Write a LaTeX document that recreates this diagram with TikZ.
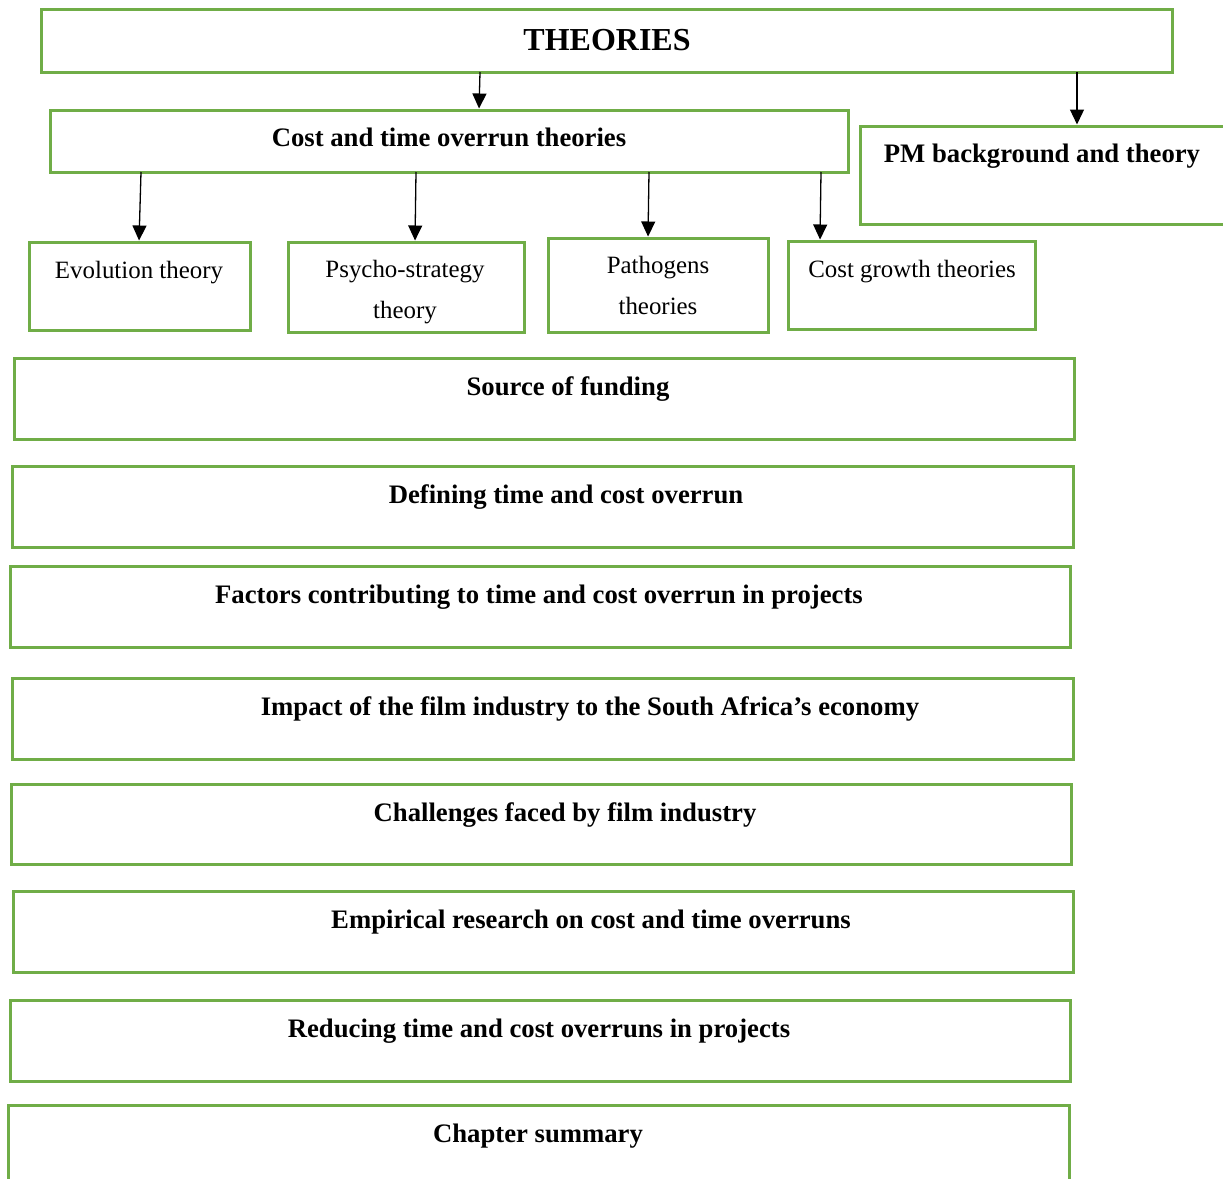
\documentclass[tikz,border=0pt]{standalone}
\usepackage{fontspec}
\setmainfont{Liberation Serif}
\usetikzlibrary{arrows.meta}
\definecolor{boxgreen}{RGB}{112,173,71}
\begin{document}
\begin{tikzpicture}[x=1pt,y=-1pt,
  box/.style={draw=boxgreen, line width=3pt, rectangle, inner sep=0pt, outer sep=0pt, anchor=north west},
  headtext/.style={font=\fontsize{32}{38}\selectfont\bfseries, anchor=base, inner sep=0pt},
  bt/.style={font=\fontsize{26.7}{32}\selectfont\bfseries, anchor=base, inner sep=0pt},
  rt/.style={font=\fontsize{24.9}{30}\selectfont, anchor=base, inner sep=0pt},
  arr/.style={line width=1.3pt, shorten >=1.5pt, -{Triangle[width=14pt,length=15pt]}}]
\useasboundingbox (0,0) rectangle (1223,1178);
\clip (0,0) rectangle (1223,1178);

% top level
\node[box, minimum width=1131pt, minimum height=63pt] (theories) at (41,9) {};
\node[headtext] (theoriesT) at (607,50) {THEORIES};

% second level
\node[box, minimum width=798pt, minimum height=62pt] (cost) at (50,110) {};
\node[bt] (costT) at (449,146) {Cost and time overrun theories};
\node[box, minimum width=400pt, minimum height=98pt] (pm) at (860,126) {};
\node[bt] (pmT) at (1042,162) {PM background and theory};

% theory boxes
\node[box, minimum width=221pt, minimum height=88pt] (evo) at (29,242) {};
\node[rt] (evoT) at (139,278) {Evolution theory};
\node[box, minimum width=236pt, minimum height=90pt] (psy) at (288,242) {};
\node[rt] (psyT1) at (405,277) {Psycho-strategy};
\node[rt] (psyT2) at (405,318) {theory};
\node[box, minimum width=220pt, minimum height=94pt] (path) at (548,238) {};
\node[rt] (pathT1) at (658,273) {Pathogens};
\node[rt] (pathT2) at (658,314) {theories};
\node[box, minimum width=247pt, minimum height=88pt] (cg) at (788,241) {};
\node[rt] (cgT) at (912,277) {Cost growth theories};

% section boxes
\node[box, minimum width=1060pt, minimum height=81pt] (fund) at (14,358) {};
\node[bt] (fundT) at (568,395) {Source of funding};
\node[box, minimum width=1061pt, minimum height=81pt] (def) at (12,466) {};
\node[bt] (defT) at (566,503) {Defining time and cost overrun};
\node[box, minimum width=1060pt, minimum height=81pt] (fact) at (10,566) {};
\node[bt] (factT) at (539,603) {Factors contributing to time and cost overrun in projects};
\node[box, minimum width=1061pt, minimum height=81pt] (imp) at (12,678) {};
\node[bt] (impT) at (590,715) {Impact of the film industry to the South Africa’s economy};
\node[box, minimum width=1060pt, minimum height=80pt] (chal) at (11,784) {};
\node[bt] (chalT) at (565,821) {Challenges faced by film industry};
\node[box, minimum width=1060pt, minimum height=81pt] (emp) at (13,891) {};
\node[bt] (empT) at (591,928) {Empirical research on cost and time overruns};
\node[box, minimum width=1060pt, minimum height=81pt] (red) at (10,1000) {};
\node[bt] (redT) at (539,1037) {Reducing time and cost overruns in projects};
\node[box, minimum width=1061pt, minimum height=100pt] (sum) at (8,1105) {};
\node[bt] (sumT) at (538,1142) {Chapter summary};

% connectors
\draw[arr] ([xshift=439pt]theories.south west) -- ([xshift=429pt]cost.north west);
\draw[arr] ([xshift=1036pt]theories.south west) -- ([xshift=217pt]pm.north west);
\draw[arr] ([xshift=91pt]cost.south west) -- ([xshift=110pt]evo.north west);
\draw[arr] ([xshift=366pt]cost.south west) -- ([xshift=127pt]psy.north west);
\draw[arr] ([xshift=599pt]cost.south west) -- ([xshift=100pt]path.north west);
\draw[arr] ([xshift=771pt]cost.south west) -- ([xshift=32pt]cg.north west);
\end{tikzpicture}
\end{document}
